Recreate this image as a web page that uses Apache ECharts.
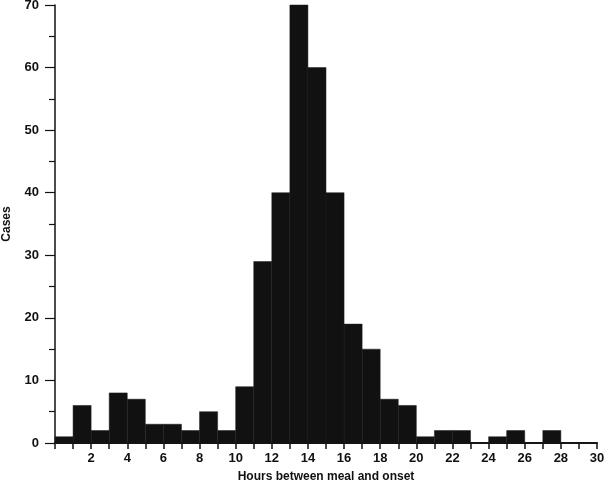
<!DOCTYPE html>
<html>
<head>
<meta charset="utf-8">
<script src="https://cdn.jsdelivr.net/npm/echarts@6/dist/echarts.min.js"></script>
<style>
  html, body { margin: 0; padding: 0; background: #fff; }
  #main { width: 608px; height: 484px; }
</style>
</head>
<body>
<div id="main"></div>
<script>
// one-hour bins, hours 0..30
var binStart = [0, 1, 2, 3, 4, 5, 6, 7, 8, 9, 10, 11, 12, 13, 14, 15, 16, 17, 18, 19, 20, 21, 22, 23, 24, 25, 26, 27, 28, 29];
var cases = [1, 6, 2, 8, 7, 3, 3, 2, 5, 2, 9, 29, 40, 70, 60, 40, 19, 15, 7, 6, 1, 2, 2, 0, 1, 2, 0, 2, 0, 0];
var xLabels = [2, 4, 6, 8, 10, 12, 14, 16, 18, 20, 22, 24, 26, 28, 30];

var data = binStart.map(function (s, i) { return [s, s + 1, cases[i]]; });

var chartDom = document.getElementById('main');
var myChart = echarts.init(chartDom);
var font = 'Liberation Sans, Arial, sans-serif';

var option = {
  backgroundColor: '#fff',
  animation: false,
  grid: { left: 55, right: 11, top: 5, bottom: 41, containLabel: false, outerBoundsMode: 'none' },
  xAxis: {
    type: 'value',
    min: 0,
    max: 30,
    interval: 1,
    name: 'Hours between meal and onset',
    nameLocation: 'middle',
    nameGap: 28,
    nameTextStyle: { color: '#111', fontFamily: font, fontWeight: 'bold', fontSize: 12 },
    axisLine: { show: true, lineStyle: { color: '#111', width: 2 } },
    axisTick: { show: true, length: 6, lineStyle: { color: '#111', width: 1.5 } },
    axisLabel: {
      color: '#111', fontFamily: font, fontWeight: 'bold', fontSize: 13, margin: 9,
      formatter: function (v) { return xLabels.indexOf(v) >= 0 ? String(v) : ''; }
    },
    splitLine: { show: false }
  },
  yAxis: {
    type: 'value',
    min: 0,
    max: 70,
    interval: 10,
    name: 'Cases',
    nameLocation: 'middle',
    nameRotate: 90,
    nameGap: 42,
    nameTextStyle: { color: '#111', fontFamily: font, fontWeight: 'bold', fontSize: 12 },
    axisLine: { show: true, lineStyle: { color: '#111', width: 1.5 } },
    axisTick: { show: true, length: 10, lineStyle: { color: '#111', width: 1.2 } },
    minorTick: { show: true, splitNumber: 2, length: 6, lineStyle: { color: '#111', width: 1.2 } },
    axisLabel: { color: '#111', fontFamily: font, fontWeight: 'bold', fontSize: 13, margin: 16 },
    splitLine: { show: false }
  },
  series: [{
    type: 'custom',
    data: data,
    encode: { x: [0, 1], y: 2 },
    renderItem: function (params, api) {
      var p0 = api.coord([api.value(0), api.value(2)]);
      var p1 = api.coord([api.value(1), 0]);
      return {
        type: 'rect',
        shape: { x: p0[0], y: p0[1], width: p1[0] - p0[0], height: p1[1] - p0[1] },
        style: { fill: '#111', stroke: '#1e1e1e', lineWidth: 0.5 }
      };
    }
  }]
};
myChart.setOption(option);
</script>
</body>
</html>
